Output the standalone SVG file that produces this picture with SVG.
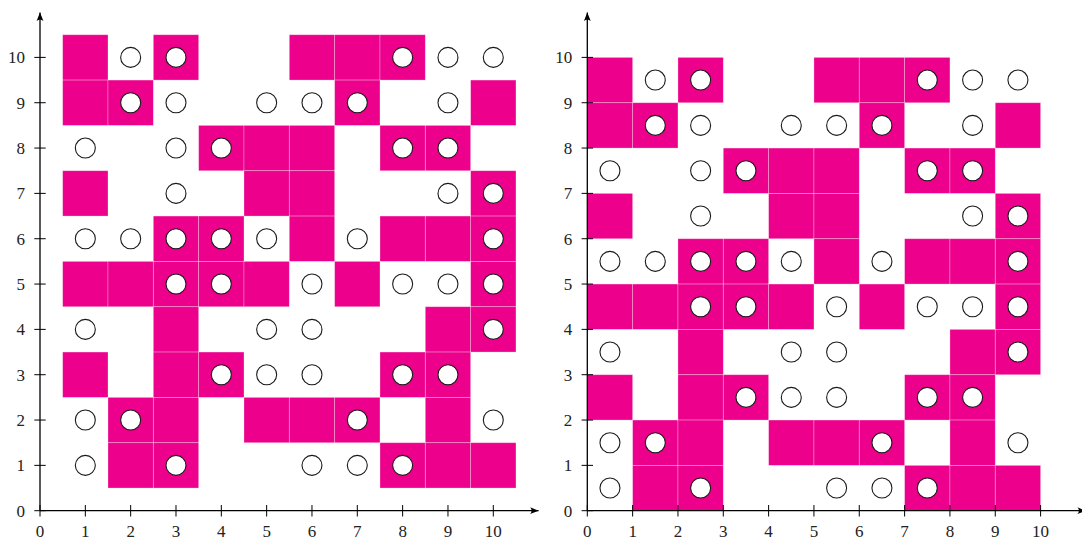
<svg xmlns="http://www.w3.org/2000/svg" xmlns:xlink="http://www.w3.org/1999/xlink" width="1082" height="541" viewBox="0 0 1082 541">
<style>
.p{fill:#EC008C;stroke:#ffffff;stroke-opacity:0.35;stroke-width:0.8}
.c{fill:#ffffff;stroke:#1a1a1a;stroke-width:1.1}
.ax{stroke:#000;stroke-width:1.3;fill:none}
.tk{stroke:#000;stroke-width:1;fill:none}
</style>
<defs>
<marker id="ah" markerWidth="12" markerHeight="10" refX="10" refY="5" orient="auto" markerUnits="userSpaceOnUse" viewBox="0 0 12 10">
<path d="M10,5 L1.5,1.6 Q4.5,5 1.5,8.4 Z" fill="#000"/>
</marker>
<g id="pattern">
<g id="cells">
<rect class="p" x="62.67" y="34.74" width="45.33" height="45.33"/>
<rect class="p" x="153.33" y="34.74" width="45.33" height="45.33"/>
<rect class="p" x="289.32" y="34.74" width="45.33" height="45.33"/>
<rect class="p" x="334.65" y="34.74" width="45.33" height="45.33"/>
<rect class="p" x="379.98" y="34.74" width="45.33" height="45.33"/>
<rect class="p" x="62.67" y="80.07" width="45.33" height="45.33"/>
<rect class="p" x="108.00" y="80.07" width="45.33" height="45.33"/>
<rect class="p" x="334.65" y="80.07" width="45.33" height="45.33"/>
<rect class="p" x="470.64" y="80.07" width="45.33" height="45.33"/>
<rect class="p" x="198.66" y="125.40" width="45.33" height="45.33"/>
<rect class="p" x="243.99" y="125.40" width="45.33" height="45.33"/>
<rect class="p" x="289.32" y="125.40" width="45.33" height="45.33"/>
<rect class="p" x="379.98" y="125.40" width="45.33" height="45.33"/>
<rect class="p" x="425.31" y="125.40" width="45.33" height="45.33"/>
<rect class="p" x="62.67" y="170.73" width="45.33" height="45.33"/>
<rect class="p" x="243.99" y="170.73" width="45.33" height="45.33"/>
<rect class="p" x="289.32" y="170.73" width="45.33" height="45.33"/>
<rect class="p" x="470.64" y="170.73" width="45.33" height="45.33"/>
<rect class="p" x="153.33" y="216.06" width="45.33" height="45.33"/>
<rect class="p" x="198.66" y="216.06" width="45.33" height="45.33"/>
<rect class="p" x="289.32" y="216.06" width="45.33" height="45.33"/>
<rect class="p" x="379.98" y="216.06" width="45.33" height="45.33"/>
<rect class="p" x="425.31" y="216.06" width="45.33" height="45.33"/>
<rect class="p" x="470.64" y="216.06" width="45.33" height="45.33"/>
<rect class="p" x="62.67" y="261.39" width="45.33" height="45.33"/>
<rect class="p" x="108.00" y="261.39" width="45.33" height="45.33"/>
<rect class="p" x="153.33" y="261.39" width="45.33" height="45.33"/>
<rect class="p" x="198.66" y="261.39" width="45.33" height="45.33"/>
<rect class="p" x="243.99" y="261.39" width="45.33" height="45.33"/>
<rect class="p" x="334.65" y="261.39" width="45.33" height="45.33"/>
<rect class="p" x="470.64" y="261.39" width="45.33" height="45.33"/>
<rect class="p" x="153.33" y="306.72" width="45.33" height="45.33"/>
<rect class="p" x="425.31" y="306.72" width="45.33" height="45.33"/>
<rect class="p" x="470.64" y="306.72" width="45.33" height="45.33"/>
<rect class="p" x="62.67" y="352.05" width="45.33" height="45.33"/>
<rect class="p" x="153.33" y="352.05" width="45.33" height="45.33"/>
<rect class="p" x="198.66" y="352.05" width="45.33" height="45.33"/>
<rect class="p" x="379.98" y="352.05" width="45.33" height="45.33"/>
<rect class="p" x="425.31" y="352.05" width="45.33" height="45.33"/>
<rect class="p" x="108.00" y="397.38" width="45.33" height="45.33"/>
<rect class="p" x="153.33" y="397.38" width="45.33" height="45.33"/>
<rect class="p" x="243.99" y="397.38" width="45.33" height="45.33"/>
<rect class="p" x="289.32" y="397.38" width="45.33" height="45.33"/>
<rect class="p" x="334.65" y="397.38" width="45.33" height="45.33"/>
<rect class="p" x="425.31" y="397.38" width="45.33" height="45.33"/>
<rect class="p" x="108.00" y="442.71" width="45.33" height="45.33"/>
<rect class="p" x="153.33" y="442.71" width="45.33" height="45.33"/>
<rect class="p" x="379.98" y="442.71" width="45.33" height="45.33"/>
<rect class="p" x="425.31" y="442.71" width="45.33" height="45.33"/>
<rect class="p" x="470.64" y="442.71" width="45.33" height="45.33"/>
</g>
<g id="dots">
<circle class="c" cx="130.66" cy="57.40" r="10"/>
<circle class="c" cx="175.99" cy="57.40" r="10"/>
<circle class="c" cx="402.64" cy="57.40" r="10"/>
<circle class="c" cx="447.97" cy="57.40" r="10"/>
<circle class="c" cx="493.30" cy="57.40" r="10"/>
<circle class="c" cx="130.66" cy="102.73" r="10"/>
<circle class="c" cx="175.99" cy="102.73" r="10"/>
<circle class="c" cx="266.65" cy="102.73" r="10"/>
<circle class="c" cx="311.98" cy="102.73" r="10"/>
<circle class="c" cx="357.31" cy="102.73" r="10"/>
<circle class="c" cx="447.97" cy="102.73" r="10"/>
<circle class="c" cx="85.33" cy="148.06" r="10"/>
<circle class="c" cx="175.99" cy="148.06" r="10"/>
<circle class="c" cx="221.32" cy="148.06" r="10"/>
<circle class="c" cx="402.64" cy="148.06" r="10"/>
<circle class="c" cx="447.97" cy="148.06" r="10"/>
<circle class="c" cx="175.99" cy="193.39" r="10"/>
<circle class="c" cx="447.97" cy="193.39" r="10"/>
<circle class="c" cx="493.30" cy="193.39" r="10"/>
<circle class="c" cx="85.33" cy="238.72" r="10"/>
<circle class="c" cx="130.66" cy="238.72" r="10"/>
<circle class="c" cx="175.99" cy="238.72" r="10"/>
<circle class="c" cx="221.32" cy="238.72" r="10"/>
<circle class="c" cx="266.65" cy="238.72" r="10"/>
<circle class="c" cx="357.31" cy="238.72" r="10"/>
<circle class="c" cx="493.30" cy="238.72" r="10"/>
<circle class="c" cx="175.99" cy="284.05" r="10"/>
<circle class="c" cx="221.32" cy="284.05" r="10"/>
<circle class="c" cx="311.98" cy="284.05" r="10"/>
<circle class="c" cx="402.64" cy="284.05" r="10"/>
<circle class="c" cx="447.97" cy="284.05" r="10"/>
<circle class="c" cx="493.30" cy="284.05" r="10"/>
<circle class="c" cx="85.33" cy="329.38" r="10"/>
<circle class="c" cx="266.65" cy="329.38" r="10"/>
<circle class="c" cx="311.98" cy="329.38" r="10"/>
<circle class="c" cx="493.30" cy="329.38" r="10"/>
<circle class="c" cx="221.32" cy="374.71" r="10"/>
<circle class="c" cx="266.65" cy="374.71" r="10"/>
<circle class="c" cx="311.98" cy="374.71" r="10"/>
<circle class="c" cx="402.64" cy="374.71" r="10"/>
<circle class="c" cx="447.97" cy="374.71" r="10"/>
<circle class="c" cx="85.33" cy="420.04" r="10"/>
<circle class="c" cx="130.66" cy="420.04" r="10"/>
<circle class="c" cx="357.31" cy="420.04" r="10"/>
<circle class="c" cx="493.30" cy="420.04" r="10"/>
<circle class="c" cx="85.33" cy="465.37" r="10"/>
<circle class="c" cx="175.99" cy="465.37" r="10"/>
<circle class="c" cx="311.98" cy="465.37" r="10"/>
<circle class="c" cx="357.31" cy="465.37" r="10"/>
<circle class="c" cx="402.64" cy="465.37" r="10"/>
</g>
</g>
</defs>
<rect width="1082" height="541" fill="#ffffff"/>
<g id="left-plot">
<use xlink:href="#pattern" href="#pattern"/>
<line class="ax" x1="40" y1="510.7" x2="538.6" y2="510.7" marker-end="url(#ah)"/>
<line class="ax" x1="40" y1="510.7" x2="40" y2="12.4" marker-end="url(#ah)"/>
<path class="tk" d="M40,505V516.5M85.33,505V516.5M130.66,505V516.5M175.99,505V516.5M221.32,505V516.5M266.65,505V516.5M311.98,505V516.5M357.31,505V516.5M402.64,505V516.5M447.97,505V516.5M493.3,505V516.5"/>
<path class="tk" d="M34.3,510.7H45.7M34.3,465.37H45.7M34.3,420.04H45.7M34.3,374.71H45.7M34.3,329.38H45.7M34.3,284.05H45.7M34.3,238.72H45.7M34.3,193.39H45.7M34.3,148.06H45.7M34.3,102.73H45.7M34.3,57.4H45.7"/>
<g font-family="Liberation Serif, DejaVu Serif, serif" font-size="17" fill="#222" text-anchor="middle">
<text x="40" y="537">0</text><text x="85.33" y="537">1</text><text x="130.66" y="537">2</text><text x="175.99" y="537">3</text><text x="221.32" y="537">4</text><text x="266.65" y="537">5</text><text x="311.98" y="537">6</text><text x="357.31" y="537">7</text><text x="402.64" y="537">8</text><text x="447.97" y="537">9</text><text x="493.3" y="537">10</text>
</g>
<g font-family="Liberation Serif, DejaVu Serif, serif" font-size="17" fill="#222" text-anchor="end">
<text x="25" y="516.5">0</text><text x="25" y="471.2">1</text><text x="25" y="425.8">2</text><text x="25" y="380.5">3</text><text x="25" y="335.2">4</text><text x="25" y="289.9">5</text><text x="25" y="244.5">6</text><text x="25" y="199.2">7</text><text x="25" y="153.9">8</text><text x="25" y="108.5">9</text><text x="25" y="63.2">10</text>
</g>
</g>
<g id="right-plot">
<use xlink:href="#pattern" href="#pattern" transform="translate(524.635,22.665)"/>
<line class="ax" x1="587.3" y1="510.7" x2="1085.9" y2="510.7" marker-end="url(#ah)"/>
<line class="ax" x1="587.3" y1="510.7" x2="587.3" y2="12.4" marker-end="url(#ah)"/>
<path class="tk" d="M587.3,505V516.5M632.63,505V516.5M677.96,505V516.5M723.29,505V516.5M768.62,505V516.5M813.95,505V516.5M859.28,505V516.5M904.61,505V516.5M949.94,505V516.5M995.27,505V516.5M1040.6,505V516.5"/>
<path class="tk" d="M581.6,510.7H593M581.6,465.37H593M581.6,420.04H593M581.6,374.71H593M581.6,329.38H593M581.6,284.05H593M581.6,238.72H593M581.6,193.39H593M581.6,148.06H593M581.6,102.73H593M581.6,57.4H593"/>
<g font-family="Liberation Serif, DejaVu Serif, serif" font-size="17" fill="#222" text-anchor="middle">
<text x="587.3" y="537">0</text><text x="632.63" y="537">1</text><text x="677.96" y="537">2</text><text x="723.29" y="537">3</text><text x="768.62" y="537">4</text><text x="813.95" y="537">5</text><text x="859.28" y="537">6</text><text x="904.61" y="537">7</text><text x="949.94" y="537">8</text><text x="995.27" y="537">9</text><text x="1040.6" y="537">10</text>
</g>
<g font-family="Liberation Serif, DejaVu Serif, serif" font-size="17" fill="#222" text-anchor="end">
<text x="572.3" y="516.5">0</text><text x="572.3" y="471.2">1</text><text x="572.3" y="425.8">2</text><text x="572.3" y="380.5">3</text><text x="572.3" y="335.2">4</text><text x="572.3" y="289.9">5</text><text x="572.3" y="244.5">6</text><text x="572.3" y="199.2">7</text><text x="572.3" y="153.9">8</text><text x="572.3" y="108.5">9</text><text x="572.3" y="63.2">10</text>
</g>
</g>
</svg>
